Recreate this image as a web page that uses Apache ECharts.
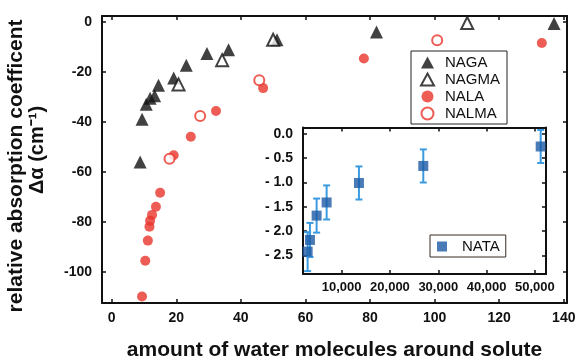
<!DOCTYPE html>
<html>
<head>
<meta charset="utf-8">
<script src="https://cdn.jsdelivr.net/npm/echarts@6/dist/echarts.min.js"></script>
<style>
html,body{margin:0;padding:0;background:#fff}
#chart{width:577px;height:356px}
</style>
</head>
<body>
<div id="chart"></div>
<script>
// main plot: water molecules vs delta alpha
const nagaX = [8.8, 9.4, 10.7, 11.9, 13.3, 14.5, 19.2, 23.1, 29.5, 36.2, 51.2, 82, 137]
const nagaY = [-56, -38.9, -32.9, -30.5, -29.5, -25.2, -22.3, -17.2, -12.5, -11, -7, -3.9, -0.5]
const nagmaX = [20.7, 34.2, 50, 110.1]
const nagmaY = [-24.9, -15.2, -7, -0.3]
const nalaX = [9.4, 10.4, 11.2, 11.7, 11.9, 12.5, 13.7, 15, 19.2, 24.5, 32.3, 46.9, 78.1, 133.2]
const nalaY = [-109.9, -95.6, -87.5, -81.9, -79.5, -77.2, -73.9, -68.3, -53.3, -45.9, -35.6, -26.4, -14.5, -8.3]
const nalmaX = [17.9, 27.4, 45.7, 100.8]
const nalmaY = [-54.7, -37.6, -23.2, -7.2]
const mainXTicks = [0, 20, 40, 60, 80, 100, 120, 140]
const mainYTicks = [-100, -80, -60, -40, -20, 0]

// inset: NATA
const nataX = [2960, 3440, 4820, 6890, 13580, 26900, 51200]
const nataY = [-2.42, -2.18, -1.68, -1.41, -1.01, -0.66, -0.26]
const nataErr = [0.4, 0.35, 0.35, 0.35, 0.34, 0.34, 0.34]
const insetXTicks = [10000, 20000, 30000, 40000, 50000]
const insetYTicks = [-2.5, -2, -1.5, -1, -0.5, 0]

const font = 'Liberation Sans, Arial, sans-serif'
const red = '#e8342c'
const blue = '#1d5aa5'
const lightBlue = '#3b9be0'

const pairs = (xs, ys) => xs.map((x, i) => [x, ys[i]])

function frameAxis(extra, labels, ticks) {
    return Object.assign({
        type: 'value',
        axisLine: {show: true, onZero: false, lineStyle: {color: '#111', width: 2}},
        axisTick: {show: true, inside: true, length: 4, customValues: ticks, lineStyle: {color: '#111', width: 1.5}},
        splitLine: {show: false},
        axisLabel: labels ? Object.assign({
            customValues: ticks, color: '#111', fontWeight: 'bold', fontSize: 14, fontFamily: font
        }, labels) : {show: false}
    }, extra)
}

const chart = echarts.init(document.getElementById('chart'))

chart.setOption({
    animation: false,
    backgroundColor: '#fff',
    grid: [
        {left: 102, top: 16, width: 465, height: 287, outerBoundsMode: 'none', containLabel: false},
        {left: 303, top: 127.5, width: 243, height: 146.5, outerBoundsMode: 'none', containLabel: false,
            show: true, backgroundColor: '#fff', borderWidth: 0}
    ],
    xAxis: [
        frameAxis({gridIndex: 0, min: -3, max: 141, position: 'bottom',
            name: 'amount of water molecules around solute', nameLocation: 'middle', nameGap: 37,
            nameTextStyle: {fontSize: 21, fontWeight: 'bold', color: '#111', fontFamily: font}},
            {margin: 8}, mainXTicks),
        frameAxis({gridIndex: 0, min: -3, max: 141, position: 'top'}, null, mainXTicks),
        frameAxis({gridIndex: 1, min: 2000, max: 52300, position: 'bottom'},
            {margin: 7, fontSize: 13, formatter: v => String(v).replace(/(\d+)(\d{3})$/, '$1,$2')}, insetXTicks),
        frameAxis({gridIndex: 1, min: 2000, max: 52300, position: 'top'}, null, insetXTicks)
    ],
    yAxis: [
        frameAxis({gridIndex: 0, min: -112.5, max: 2.5, position: 'left'}, {margin: 10}, mainYTicks),
        frameAxis({gridIndex: 0, min: -112.5, max: 2.5, position: 'right'}, null, mainYTicks),
        frameAxis({gridIndex: 1, min: -2.88, max: 0.13, position: 'left'},
            {margin: 10, formatter: v => v === 0 ? '0.0' : '- ' + Math.abs(v).toFixed(1)}, insetYTicks),
        frameAxis({gridIndex: 1, min: -2.88, max: 0.13, position: 'right'}, null, insetYTicks)
    ],
    legend: [
        {
            data: ['NAGA', 'NAGMA', 'NALA', 'NALMA'],
            orient: 'vertical', left: 411, top: 51,
            padding: [3, 7, 2, 9], itemGap: 0, itemWidth: 13, itemHeight: 12,
            borderColor: '#222', borderWidth: 1,
            textStyle: {fontSize: 15, lineHeight: 17, color: '#111', fontFamily: font, padding: [0, 0, 0, 6]}
        },
        {
            data: ['NATA'],
            left: 430, top: 235,
            padding: [3, 6, 2, 7], itemWidth: 10, itemHeight: 10,
            borderColor: '#3a2a20', borderWidth: 1,
            textStyle: {fontSize: 15, lineHeight: 17, color: '#111', fontFamily: font, padding: [0, 0, 0, 10]}
        }
    ],
    graphic: [
        {type: 'text', x: 16, y: 166, rotation: Math.PI / 2,
            style: {text: 'relative absorption coefficent', fontSize: 21, fontWeight: 'bold', fill: '#111',
                fontFamily: font, align: 'center', verticalAlign: 'middle'}},
        {type: 'text', x: 37, y: 150, rotation: Math.PI / 2,
            style: {text: 'Δα (cm⁻¹)', fontSize: 20, fontWeight: 'bold', fill: '#111',
                fontFamily: font, align: 'center', verticalAlign: 'middle'}}
    ],
    series: [
        {name: 'NAGA', type: 'scatter', xAxisIndex: 0, yAxisIndex: 0, symbol: 'triangle', symbolSize: 13,
            itemStyle: {color: '#111'}, data: pairs(nagaX, nagaY)},
        {name: 'NAGMA', type: 'scatter', xAxisIndex: 0, yAxisIndex: 0, symbol: 'emptyTriangle', symbolSize: 12,
            itemStyle: {color: '#111', borderWidth: 2}, data: pairs(nagmaX, nagmaY)},
        {name: 'NALA', type: 'scatter', xAxisIndex: 0, yAxisIndex: 0, symbol: 'circle', symbolSize: 10,
            itemStyle: {color: red}, data: pairs(nalaX, nalaY)},
        {name: 'NALMA', type: 'scatter', xAxisIndex: 0, yAxisIndex: 0, symbol: 'emptyCircle', symbolSize: 10,
            itemStyle: {color: red, borderWidth: 2}, data: pairs(nalmaX, nalmaY)},
        {
            type: 'custom', xAxisIndex: 2, yAxisIndex: 2, z: 3,
            data: nataX.map((x, i) => [x, nataY[i] - nataErr[i], nataY[i] + nataErr[i]]),
            renderItem: function (params, api) {
                const lo = api.coord([api.value(0), api.value(1)])
                const hi = api.coord([api.value(0), api.value(2)])
                const w = 3.5
                const st = {stroke: lightBlue, lineWidth: 2}
                return {
                    type: 'group', children: [
                        {type: 'line', shape: {x1: lo[0], y1: lo[1], x2: hi[0], y2: hi[1]}, style: st},
                        {type: 'line', shape: {x1: lo[0] - w, y1: lo[1], x2: lo[0] + w, y2: lo[1]}, style: st},
                        {type: 'line', shape: {x1: hi[0] - w, y1: hi[1], x2: hi[0] + w, y2: hi[1]}, style: st}
                    ]
                }
            }
        },
        {name: 'NATA', type: 'scatter', xAxisIndex: 2, yAxisIndex: 2, z: 4, symbol: 'rect', symbolSize: 10,
            itemStyle: {color: blue}, data: pairs(nataX, nataY)}
    ]
})
</script>
</body>
</html>
